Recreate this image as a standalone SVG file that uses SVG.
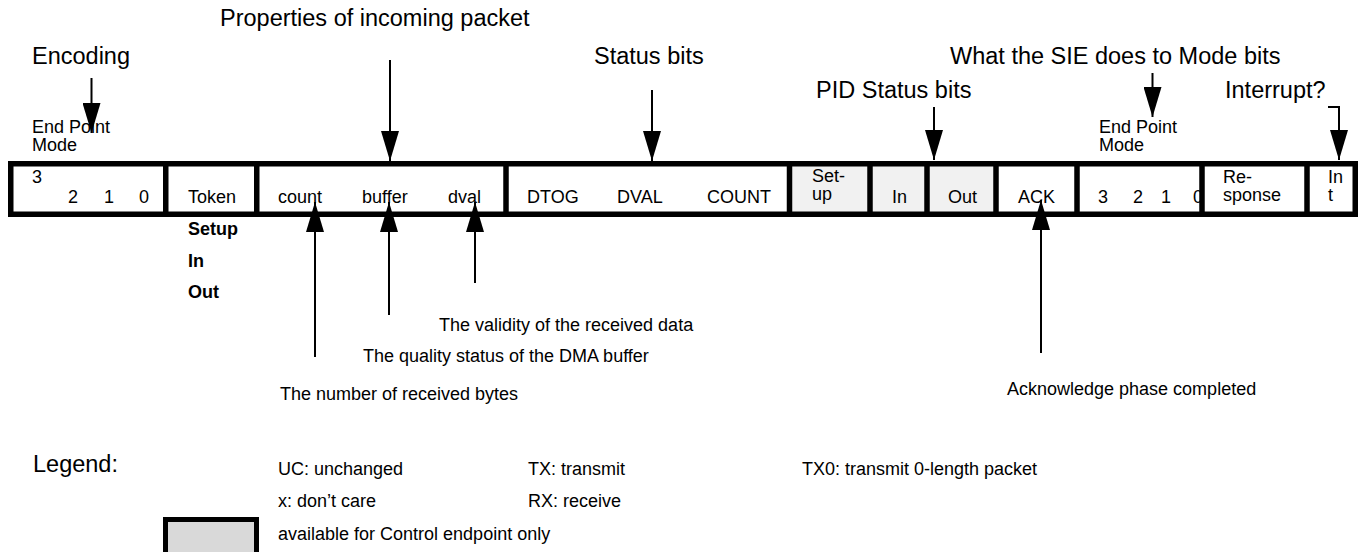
<svg xmlns="http://www.w3.org/2000/svg" width="1361" height="552" viewBox="0 0 1361 552">
<style>
text{font-family:"Liberation Sans",Arial,Helvetica,sans-serif;fill:#000}
.big{font-size:23.5px}
.sm{font-size:18px}
.b{font-size:18px;font-weight:bold}
.frame{fill:none;stroke:#000;stroke-width:5.5}
.div{stroke:#000;stroke-width:5.5}
.gray{fill:#f1f1f1}
.conn{fill:none;stroke:#000;stroke-width:2}
</style>
<defs>
<marker id="ah" viewBox="0 0 30 18" refX="30" refY="9" markerWidth="30" markerHeight="18" markerUnits="userSpaceOnUse" orient="auto">
<path d="M0,0 L30,9 L0,18 z" fill="#000"/>
</marker>
</defs>
<rect width="1361" height="552" fill="#fff"/>

<g id="titles">
<text class="big" x="220" y="26">Properties of incoming packet</text>
<text class="big" x="32" y="64">Encoding</text>
<text class="big" x="594" y="64">Status bits</text>
<text class="big" x="950" y="64">What the SIE does to Mode bits</text>
<text class="big" x="816" y="98">PID Status bits</text>
<text class="big" x="1225" y="98">Interrupt?</text>
</g>

<g id="epmode-left">
<text class="sm" x="32" y="133">End Point</text>
<text class="sm" x="32" y="151">Mode</text>
</g>
<g id="epmode-right">
<text class="sm" x="1099" y="133">End Point</text>
<text class="sm" x="1099" y="151">Mode</text>
</g>

<g id="cells-fill">
<rect class="gray" x="789" y="164" width="81" height="50"/>
<rect class="gray" x="870" y="164" width="57" height="50"/>
<rect class="gray" x="927" y="164" width="69" height="50"/>
</g>

<g id="cell-mode-in">
<text class="sm" x="32" y="183">3</text>
<text class="sm" x="68" y="203">2</text>
<text class="sm" x="104" y="203">1</text>
<text class="sm" x="139" y="203">0</text>
</g>
<g id="cell-token">
<text class="sm" x="188" y="203">Token</text>
</g>
<g id="cell-props">
<text class="sm" x="278" y="203">count</text>
<text class="sm" x="362" y="203">buffer</text>
<text class="sm" x="448" y="203">dval</text>
</g>
<g id="cell-status">
<text class="sm" x="527" y="203">DTOG</text>
<text class="sm" x="617" y="203">DVAL</text>
<text class="sm" x="707" y="203">COUNT</text>
</g>
<g id="cell-setup">
<text class="sm" x="812" y="182">Set-</text>
<text class="sm" x="812" y="200">up</text>
</g>
<g id="cell-in">
<text class="sm" x="892" y="203">In</text>
</g>
<g id="cell-out">
<text class="sm" x="948" y="203">Out</text>
</g>
<g id="cell-ack">
<text class="sm" x="1018" y="203">ACK</text>
</g>
<g id="cell-mode-out">
<text class="sm" x="1098" y="203">3</text>
<text class="sm" x="1133" y="203">2</text>
<text class="sm" x="1161" y="203">1</text>
<text class="sm" x="1193" y="203">0</text>
</g>
<g id="cell-response">
<text class="sm" x="1223" y="183">Re-</text>
<text class="sm" x="1223" y="201">sponse</text>
</g>
<g id="cell-int">
<text class="sm" x="1328" y="183">In</text>
<text class="sm" x="1328" y="201">t</text>
</g>

<g id="table">
<rect class="frame" x="10.75" y="163.75" width="1344.5" height="50.5"/>
<line class="div" x1="165.75" y1="164" x2="165.75" y2="214"/>
<line class="div" x1="256.75" y1="164" x2="256.75" y2="214"/>
<line class="div" x1="506" y1="164" x2="506" y2="214"/>
<line class="div" x1="789.5" y1="164" x2="789.5" y2="214"/>
<line class="div" x1="870" y1="164" x2="870" y2="214"/>
<line class="div" x1="927" y1="164" x2="927" y2="214"/>
<line class="div" x1="996" y1="164" x2="996" y2="214"/>
<line class="div" x1="1077" y1="164" x2="1077" y2="214"/>
<line class="div" x1="1202" y1="164" x2="1202" y2="214"/>
<line class="div" x1="1307" y1="164" x2="1307" y2="214"/>
</g>

<g id="token-types">
<text class="b" x="188" y="235">Setup</text>
<text class="b" x="188" y="267">In</text>
<text class="b" x="188" y="298">Out</text>
</g>

<g id="notes">
<text class="sm" x="439" y="331">The validity of the received data</text>
<text class="sm" x="363" y="362">The quality status of the DMA buffer</text>
<text class="sm" x="280" y="400">The number of received bytes</text>
<text class="sm" x="1007" y="395">Acknowledge phase completed</text>
</g>

<g id="connectors">
<path class="conn" d="M91.5,78 V133" marker-end="url(#ah)"/>
<path class="conn" d="M390,60 V161" marker-end="url(#ah)"/>
<path class="conn" d="M652,90 V161" marker-end="url(#ah)"/>
<path class="conn" d="M934,107 V160" marker-end="url(#ah)"/>
<path class="conn" d="M1152.5,73 V117" marker-end="url(#ah)"/>
<path class="conn" d="M1328,107 H1339 V160" marker-end="url(#ah)"/>
<path class="conn" d="M315,357 V202" marker-end="url(#ah)"/>
<path class="conn" d="M389,315 V202" marker-end="url(#ah)"/>
<path class="conn" d="M475,283 V202" marker-end="url(#ah)"/>
<path class="conn" d="M1041,353 V200" marker-end="url(#ah)"/>
</g>

<g id="legend">
<text class="big" x="33" y="472">Legend:</text>
<text class="sm" x="278" y="475">UC: unchanged</text>
<text class="sm" x="278" y="507">x: don’t care</text>
<text class="sm" x="528" y="475">TX: transmit</text>
<text class="sm" x="528" y="507">RX: receive</text>
<text class="sm" x="802" y="475">TX0: transmit 0-length packet</text>
<rect x="165.5" y="519.5" width="91" height="45" fill="#d9d9d9" stroke="#000" stroke-width="5"/>
<text class="sm" x="278" y="540">available for Control endpoint only</text>
</g>
</svg>
